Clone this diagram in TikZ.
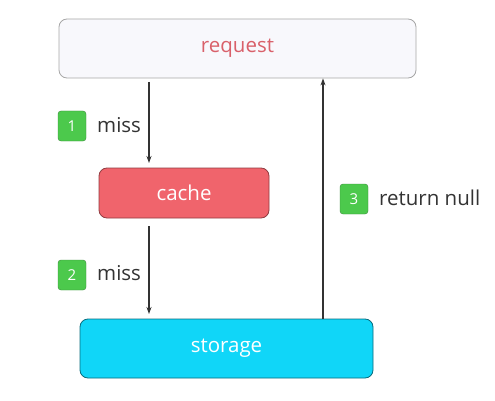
\documentclass[tikz,border=0pt]{standalone}
\usepackage{fontspec}
\setmainfont{Open Sans}
\usetikzlibrary{arrows.meta}
\definecolor{reqfill}{HTML}{F8F8FC}
\definecolor{reqtext}{HTML}{D9606A}
\definecolor{cachefill}{HTML}{F0646C}
\definecolor{storefill}{HTML}{10D6F8}
\definecolor{badgefill}{HTML}{4CC94C}
\definecolor{badgeline}{HTML}{3A8A3A}
\definecolor{txt}{HTML}{333333}
\tikzset{
  box/.style={draw=#1, rounded corners=8pt, line width=0.8pt, inner sep=0pt},
  badge/.style={draw=badgeline, fill=badgefill, rounded corners=3pt, minimum width=28pt, minimum height=30pt, inner sep=0pt, text=white, font=\fontsize{15}{15}\selectfont},
  lbl/.style={text=txt, anchor=west, inner sep=0pt, font=\fontsize{20.5}{20.5}\selectfont},
  arr/.style={-{Stealth[length=7pt,width=5pt]}, line width=1.1pt, color=txt}
}
\begin{document}
\begin{tikzpicture}[x=1pt,y=-1pt]
\useasboundingbox (0,0) rectangle (495,401);
\node[box=gray!70, fill=reqfill, minimum width=357pt, minimum height=59pt, text=reqtext, font=\fontsize{20.5}{20.5}\selectfont] (req) at (237.5,48.5) {request};
\node[box=cachefill!60!black, fill=cachefill, minimum width=170pt, minimum height=50pt, text=white, font=\fontsize{20.5}{20.5}\selectfont] (cache) at (184,193) {cache};
\node[box=storefill!50!black, fill=storefill, minimum width=293pt, minimum height=59pt, text=white, font=\fontsize{20.5}{20.5}\selectfont] (store) at (226.5,348.5) {storage};
\coordinate (a1s) at (149,82);
\coordinate (a1e) at (149,163);
\coordinate (a2s) at (149,226);
\coordinate (a2e) at (149,314);
\draw[arr] (a1s) -- (a1e);
\draw[arr] (a2s) -- (a2e);
\draw[arr] (store.north -| 323,0) -- (req.south -| 323,0);
\node[badge] (b1) at (72,126) {1};
\node[lbl] (l1) at (97,125) {miss};
\node[badge] (b2) at (72,275) {2};
\node[lbl] (l2) at (97,273) {miss};
\node[badge] (b3) at (354,199) {3};
\node[lbl] (l3) at (379,198) {return null};
\end{tikzpicture}
\end{document}
